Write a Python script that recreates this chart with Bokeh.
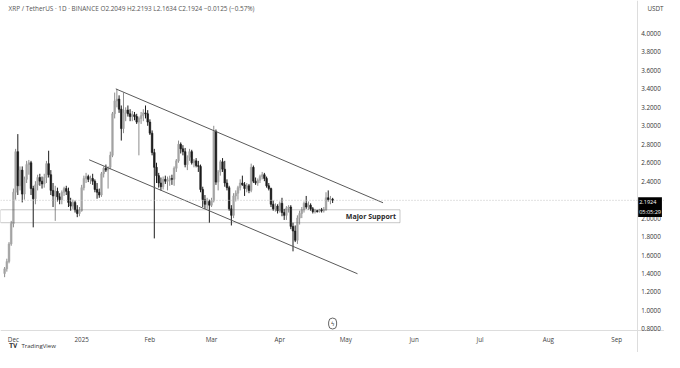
import pandas as pd
from bokeh.plotting import figure
from bokeh.models import (Range1d, FixedTicker, NumeralTickFormatter, BoxAnnotation,
                          Span, Label, ColumnDataSource)
from bokeh.embed import file_html
from bokeh.resources import INLINE

# ---------------- data ----------------
first_day = "2024-11-27"
last_day = "2025-04-25"

opens = [1.40, 1.45, 1.53, 1.72,
         1.94, 2.28, 2.72, 2.35, 2.52, 2.26, 2.42, 2.58, 2.60, 2.32, 2.21, 2.36, 2.44, 2.40, 2.37, 2.44,
         2.59, 2.47, 2.30, 2.24, 2.29, 2.23, 2.20, 2.28, 2.32, 2.29, 2.17, 2.13, 2.17, 2.09, 2.05,
         2.08, 2.33, 2.43, 2.45, 2.42, 2.43, 2.40, 2.31, 2.28, 2.25, 2.48, 2.54, 2.52, 2.55, 2.68,
         3.13, 3.27, 3.29, 3.18, 2.97, 3.14, 3.17, 3.13, 3.10, 3.12, 3.10, 3.04, 3.08, 3.11, 3.14, 3.13,
         3.04, 2.92, 2.71, 2.55, 2.46, 2.38, 2.34, 2.42, 2.40, 2.41, 2.43, 2.42, 2.54, 2.62,
         2.80, 2.75, 2.72, 2.58, 2.66, 2.72, 2.60, 2.62, 2.57, 2.56, 2.31, 2.20, 2.15, 2.18,
         2.14, 2.19, 2.94, 2.39, 2.50, 2.61, 2.53, 2.38, 2.33, 2.10, 2.03, 2.24, 2.27, 2.33, 2.38,
         2.36, 2.32, 2.35, 2.30, 2.55, 2.40, 2.38, 2.41, 2.45, 2.47, 2.43, 2.35, 2.32, 2.15, 2.10, 2.13,
         2.08, 2.16, 2.06, 2.03, 2.11, 2.12, 1.91, 1.86, 1.76, 2.00, 2.05, 2.09, 2.16, 2.12, 2.14,
         2.10, 2.07, 2.08, 2.07, 2.09, 2.08, 2.09, 2.22, 2.20, 2.2049]
highs = [1.47, 1.56, 1.74, 1.97,
         2.32, 2.75, 2.91, 2.56, 2.56, 2.45, 2.62, 2.63, 2.62, 2.35, 2.40, 2.47, 2.48, 2.45, 2.48, 2.62,
         2.73, 2.52, 2.38, 2.35, 2.33, 2.27, 2.30, 2.34, 2.35, 2.33, 2.22, 2.20, 2.19, 2.14, 2.12,
         2.36, 2.46, 2.49, 2.47, 2.46, 2.48, 2.42, 2.38, 2.32, 2.50, 2.56, 2.58, 2.56, 2.72, 3.15,
         3.36, 3.40, 3.33, 3.22, 3.36, 3.20, 3.22, 3.18, 3.16, 3.15, 3.13, 3.10, 3.15, 3.18, 3.22, 3.17,
         3.07, 2.95, 2.75, 2.60, 2.49, 2.44, 2.45, 2.46, 2.45, 2.46, 2.47, 2.56, 2.64, 2.84,
         2.82, 2.79, 2.76, 2.68, 2.75, 2.74, 2.64, 2.65, 2.62, 2.58, 2.34, 2.25, 2.22, 2.20,
         2.22, 3.00, 2.96, 2.52, 2.63, 2.65, 2.62, 2.42, 2.35, 2.14, 2.27, 2.30, 2.35, 2.42, 2.46,
         2.39, 2.38, 2.37, 2.59, 2.57, 2.44, 2.43, 2.47, 2.50, 2.49, 2.45, 2.38, 2.33, 2.19, 2.16, 2.15,
         2.18, 2.22, 2.10, 2.13, 2.14, 2.14, 1.95, 1.92, 2.03, 2.08, 2.12, 2.18, 2.24, 2.18, 2.16,
         2.12, 2.10, 2.09, 2.10, 2.11, 2.12, 2.28, 2.30, 2.24, 2.2193]
lows = [1.36, 1.42, 1.51, 1.70,
        1.90, 2.20, 2.25, 2.30, 2.17, 2.20, 2.38, 2.47, 2.25, 1.90, 2.15, 2.30, 2.35, 2.32, 2.33, 2.38,
        2.44, 2.25, 2.12, 1.97, 2.18, 2.15, 2.15, 2.24, 2.25, 2.12, 2.08, 2.10, 2.06, 2.01, 2.02,
        2.07, 2.30, 2.38, 2.39, 2.37, 2.36, 2.28, 2.21, 2.22, 2.23, 2.44, 2.50, 2.32, 2.53, 2.66,
        3.08, 3.20, 3.14, 2.84, 2.92, 3.05, 3.10, 3.05, 3.05, 3.06, 3.02, 2.68, 3.02, 3.05, 3.08, 3.00,
        2.90, 2.68, 1.78, 2.38, 2.33, 2.30, 2.31, 2.37, 2.30, 2.35, 2.36, 2.35, 2.50, 2.60,
        2.70, 2.68, 2.55, 2.52, 2.62, 2.58, 2.55, 2.55, 2.50, 2.28, 2.12, 2.10, 2.10, 1.95,
        2.12, 2.17, 2.36, 2.30, 2.46, 2.50, 2.34, 2.30, 2.08, 1.92, 2.00, 2.18, 2.20, 2.30, 2.35,
        2.24, 2.28, 2.27, 2.28, 2.38, 2.36, 2.35, 2.38, 2.42, 2.40, 2.33, 2.30, 2.12, 2.08, 2.07, 2.05,
        2.06, 2.02, 1.98, 1.98, 2.06, 1.88, 1.64, 1.74, 1.72, 1.93, 2.00, 2.06, 2.10, 2.09, 2.08,
        2.05, 2.05, 2.06, 2.06, 2.06, 2.06, 2.08, 2.18, 2.15, 2.1634]
closes = [1.45, 1.53, 1.72, 1.94,
          2.28, 2.72, 2.35, 2.52, 2.26, 2.42, 2.58, 2.60, 2.32, 2.21, 2.36, 2.44, 2.40, 2.37, 2.44, 2.59,
          2.47, 2.30, 2.24, 2.29, 2.23, 2.20, 2.28, 2.32, 2.29, 2.17, 2.13, 2.17, 2.09, 2.05, 2.08,
          2.33, 2.43, 2.45, 2.42, 2.43, 2.40, 2.31, 2.28, 2.25, 2.48, 2.54, 2.52, 2.55, 2.68, 3.13,
          3.27, 3.29, 3.18, 2.97, 3.14, 3.17, 3.13, 3.10, 3.12, 3.10, 3.04, 3.08, 3.11, 3.14, 3.13, 3.04,
          2.92, 2.71, 2.55, 2.46, 2.38, 2.34, 2.42, 2.40, 2.41, 2.43, 2.42, 2.54, 2.62, 2.80,
          2.75, 2.72, 2.58, 2.66, 2.72, 2.60, 2.62, 2.57, 2.56, 2.31, 2.20, 2.15, 2.18, 2.14,
          2.19, 2.94, 2.39, 2.50, 2.61, 2.53, 2.38, 2.33, 2.10, 2.03, 2.24, 2.27, 2.33, 2.38, 2.36,
          2.32, 2.35, 2.30, 2.55, 2.40, 2.38, 2.41, 2.45, 2.47, 2.43, 2.35, 2.32, 2.15, 2.10, 2.13, 2.08,
          2.16, 2.06, 2.03, 2.11, 2.12, 1.91, 1.86, 1.76, 2.00, 2.05, 2.09, 2.16, 2.12, 2.14, 2.10,
          2.07, 2.08, 2.07, 2.09, 2.08, 2.09, 2.22, 2.20, 2.2049, 2.1924]

last_price = 2.1924
countdown = "05:05:29"
header = ("XRP / TetherUS \u00b7 1D \u00b7 BINANCE   O2.2049  H2.2193  L2.1634  C2.1924  "
          "\u22120.0125 (\u22120.57%)")

price_ticks = [0.8, 1.0, 1.2, 1.4, 1.6, 1.8, 2.0, 2.4, 2.6, 2.8, 3.0, 3.2, 3.4, 3.6, 3.8, 4.0]
month_ticks = ["2024-12-01", "2025-01-01", "2025-02-01", "2025-03-01", "2025-04-01",
               "2025-05-01", "2025-06-01", "2025-07-01", "2025-08-01", "2025-09-01"]
month_labels = ["Dec", "2025", "Feb", "Mar", "Apr", "May", "Jun", "Jul", "Aug", "Sep"]

upper_channel_dates = ["2025-01-16 12:00", "2025-05-17 21:36"]
upper_channel_prices = [3.40, 2.166]
lower_channel_dates = ["2025-01-04 09:36", "2025-05-06 07:12"]
lower_channel_prices = [2.632, 1.397]

support_low = 1.95
support_high = 2.09
support_end = "2025-05-25 14:24"
support_text_end = "2025-05-23 19:12"
support_label = "Major Support"

# visible window and where the price / time scales sit
view_start = "2024-11-25 03:10"
view_end = "2025-09-22 18:00"
price_scale_at = "2025-09-10 08:00"
view_low = 0.5439
view_high = 4.3575
time_scale_at = 0.782

# ---------------- helpers ----------------
def ms(s):
    return pd.Timestamp(s).value / 1e6

DAY = 86400000.0
dates = pd.date_range(first_day, last_day, freq="D")
x = [d.value / 1e6 for d in dates]

UP_FILL, UP_WICK = "#a4a4a4", "#8c8c8c"
DN_FILL, DN_WICK = "#1c1c1c", "#1c1c1c"

body_color = [UP_FILL if c >= o else DN_FILL for o, c in zip(opens, closes)]
wick_color = [UP_WICK if c >= o else DN_WICK for o, c in zip(opens, closes)]
top = [max(o, c) for o, c in zip(opens, closes)]
bot = [min(o, c) for o, c in zip(opens, closes)]

src = ColumnDataSource(dict(x=x, o=opens, h=highs, l=lows, c=closes, top=top, bot=bot,
                            bc=body_color, wc=wick_color))

FONT = "Open Sans"

p = figure(width=664, height=352, output_backend="svg", toolbar_location=None,
           x_range=Range1d(ms(view_start), ms(view_end)),
           y_range=Range1d(view_low, view_high),
           y_axis_location="right",
           min_border_left=0, min_border_top=0, min_border_right=0, min_border_bottom=0)
p.xgrid.visible = False
p.ygrid.visible = False
p.outline_line_color = None
p.background_fill_color = "white"
p.border_fill_color = "white"

# support box
p.add_layout(BoxAnnotation(left=None, right=ms(support_end), bottom=support_low, top=support_high,
                           fill_alpha=0, line_color="#4a4a4a", line_width=1))
# last price line
p.add_layout(Span(location=last_price, dimension="width", line_color="#c4c4c4",
                  line_width=1, line_dash="1 2"))

# candles
p.segment(x0="x", y0="l", x1="x", y1="h", color="wc", line_width=1, source=src)
p.vbar(x="x", width=0.74 * DAY, top="top", bottom="bot", fill_color="bc", line_color="bc",
       line_width=0.6, source=src)

# channel lines
p.line([ms(d) for d in upper_channel_dates], upper_channel_prices, line_color="#5a5a5a", line_width=1)
p.line([ms(d) for d in lower_channel_dates], lower_channel_prices, line_color="#5a5a5a", line_width=1)

# axes drawn at fixed places inside the canvas
ya = p.yaxis[0]
ya.fixed_location = ms(price_scale_at)
ya.ticker = FixedTicker(ticks=price_ticks)
ya.formatter = NumeralTickFormatter(format="0.0000")
ya.major_tick_line_color = None
ya.minor_tick_line_color = None
ya.major_tick_out = 0
ya.major_tick_in = 0
ya.major_label_standoff = 4
ya.major_label_text_font = FONT
ya.major_label_text_font_size = "6.3px"
ya.major_label_text_color = "#333333"
ya.axis_line_color = "#dddddd"

xa = p.xaxis[0]
xa.fixed_location = time_scale_at
tick_ms = [ms(t) for t in month_ticks]
xa.ticker = FixedTicker(ticks=tick_ms)
xa.major_label_overrides = {t: lab for t, lab in zip(tick_ms, month_labels)}
xa.major_tick_line_color = None
xa.minor_tick_line_color = None
xa.major_tick_out = 0
xa.major_tick_in = 0
xa.major_label_standoff = 4
xa.major_label_text_font = FONT
xa.major_label_text_font_size = "6.3px"
xa.major_label_text_color = "#444444"
xa.axis_line_color = "#dddddd"

# texts
p.add_layout(Label(x=ms(support_text_end), y=(support_low + support_high) / 2, text=support_label,
                   text_align="right", text_baseline="middle", text_font=FONT,
                   text_font_size="7px", text_font_style="bold", text_color="#2a2a2a"))
p.add_layout(Label(x=8, y=8, x_units="canvas", y_units="canvas", text=header,
                   text_baseline="middle", text_font=FONT, text_font_size="6.4px",
                   text_color="#555555"))
p.add_layout(Label(x=ms(last_day), y=time_scale_at, y_offset=7, text="\u03df",
                   text_align="center", text_baseline="middle", text_font="DejaVu Sans",
                   text_font_size="6px", text_color="#444444",
                   border_line_color="#666666", border_radius=6, padding=2))
p.add_layout(Label(x=647, y=8, x_units="canvas", y_units="canvas", text="USDT",
                   text_baseline="middle", text_font=FONT, text_font_size="6.3px",
                   text_color="#444444"))
p.add_layout(Label(x=ms(price_scale_at), y=last_price, x_offset=1, y_offset=3,
                   text=f"{last_price:.4f}\n{countdown}",
                   text_baseline="top", text_font=FONT, text_font_size="5.5px", text_color="white",
                   background_fill_color="black", padding=1))
p.add_layout(Label(x=8, y=345, x_units="canvas", y_units="canvas", text="\U0001D413\U0001D415",
                   text_baseline="middle", text_font="DejaVu Sans", text_font_size="6.5px",
                   text_color="#222222"))
p.add_layout(Label(x=21, y=345, x_units="canvas", y_units="canvas", text="TradingView",
                   text_baseline="middle", text_font=FONT, text_font_size="6px",
                   text_color="#333333"))

open("out.html", "w").write(file_html(p, INLINE))
